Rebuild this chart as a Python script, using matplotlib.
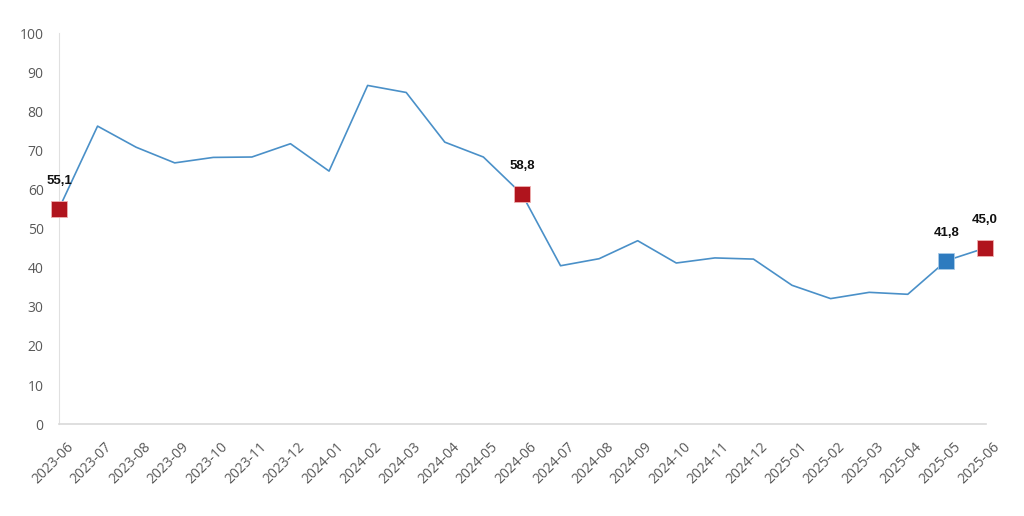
import matplotlib.pyplot as plt
from matplotlib.transforms import ScaledTranslation

months = ["2023-06", "2023-07", "2023-08", "2023-09", "2023-10", "2023-11", "2023-12",
          "2024-01", "2024-02", "2024-03", "2024-04", "2024-05", "2024-06", "2024-07",
          "2024-08", "2024-09", "2024-10", "2024-11", "2024-12", "2025-01", "2025-02",
          "2025-03", "2025-04", "2025-05", "2025-06"]
values = [55.1, 76.2, 70.8, 66.8, 68.2, 68.3, 71.7, 64.7, 86.6, 84.8, 72.1, 68.3, 58.8,
          40.5, 42.3, 46.9, 41.2, 42.5, 42.2, 35.5, 32.1, 33.7, 33.2, 41.8, 45.0]
red_points = ["2023-06", "2024-06", "2025-06"]
blue_points = ["2025-05"]

fig = plt.figure(figsize=(10.24, 5.16), dpi=100)
ax = fig.add_axes([0.0576, 0.178, 0.905, 0.758])

x = list(range(len(months)))
ax.plot(x, values, color="#4A90C8", linewidth=1.2, zorder=2)

for name, col in [(m, "#B0141D") for m in red_points] + [(m, "#2E7BBF") for m in blue_points]:
    i = months.index(name)
    ax.plot(i, values[i], marker="s", markersize=11, color=col,
            markeredgecolor="#F0B0B0" if col == "#B0141D" else "#A9CBE8",
            markeredgewidth=0.6, zorder=3, clip_on=False)
    ax.annotate(f"{values[i]:.1f}".replace(".", ","), (i, values[i]),
                xytext=(0, 20), textcoords="offset points", ha="center", va="center",
                fontsize=9.5, fontweight="bold", family="Liberation Sans", color="#111111")

ax.set_xlim(0, 24.02)
ax.set_ylim(0, 100)
ax.set_yticks(range(0, 101, 10))
ax.set_xticks(x)
ax.set_xticklabels(months, rotation=45, ha="right", rotation_mode="anchor")
ax.tick_params(axis="both", length=0, colors="#595959", labelsize=10)
ax.tick_params(axis="x", pad=11)
ax.tick_params(axis="y", pad=11)
shift = ScaledTranslation(7 / 100, 0, fig.dpi_scale_trans)
for lab in ax.get_xticklabels():
    lab.set_family("Open Sans")
    lab.set_transform(lab.get_transform() + shift)
for lab in ax.get_yticklabels():
    lab.set_family("Open Sans")

for side in ["top", "right"]:
    ax.spines[side].set_visible(False)
ax.spines["left"].set_color("#E0E0E0")
ax.spines["bottom"].set_color("#D9D9D9")
ax.spines["bottom"].set_linewidth(1.2)

plt.savefig("out.png", dpi=100)
